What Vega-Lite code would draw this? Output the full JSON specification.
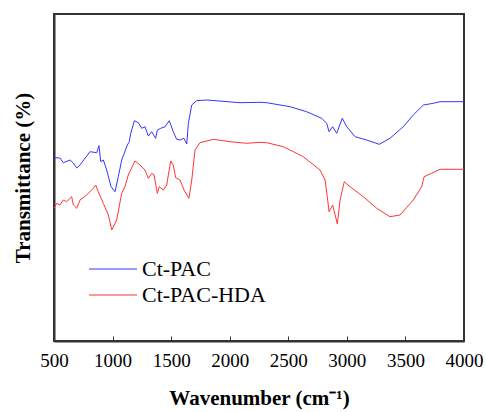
{
  "$schema": "https://vega.github.io/schema/vega-lite/v6.json",
  "width": 410,
  "height": 327,
  "autosize": "none",
  "padding": {"left": 54, "top": 14, "right": 22, "bottom": 71},
  "background": "white",
  "config": {
    "font": "Liberation Serif",
    "view": {"stroke": "#333333", "strokeWidth": 2}
  },
  "data": {
    "values": [
      {"wn": 500, "t": 183.3, "s": "Ct-PAC"},
      {"wn": 551, "t": 183, "s": "Ct-PAC"},
      {"wn": 579, "t": 178.3, "s": "Ct-PAC"},
      {"wn": 637, "t": 181, "s": "Ct-PAC"},
      {"wn": 665, "t": 178, "s": "Ct-PAC"},
      {"wn": 694, "t": 173, "s": "Ct-PAC"},
      {"wn": 722, "t": 176, "s": "Ct-PAC"},
      {"wn": 807, "t": 189.3, "s": "Ct-PAC"},
      {"wn": 865, "t": 188.3, "s": "Ct-PAC"},
      {"wn": 884, "t": 195.3, "s": "Ct-PAC"},
      {"wn": 899, "t": 179.3, "s": "Ct-PAC"},
      {"wn": 921, "t": 181, "s": "Ct-PAC"},
      {"wn": 950, "t": 171, "s": "Ct-PAC"},
      {"wn": 987, "t": 154.3, "s": "Ct-PAC"},
      {"wn": 1021, "t": 149.3, "s": "Ct-PAC"},
      {"wn": 1049, "t": 164.3, "s": "Ct-PAC"},
      {"wn": 1078, "t": 181, "s": "Ct-PAC"},
      {"wn": 1126, "t": 196, "s": "Ct-PAC"},
      {"wn": 1143, "t": 199.3, "s": "Ct-PAC"},
      {"wn": 1155, "t": 207.7, "s": "Ct-PAC"},
      {"wn": 1186, "t": 220.3, "s": "Ct-PAC"},
      {"wn": 1220, "t": 218.3, "s": "Ct-PAC"},
      {"wn": 1249, "t": 212.7, "s": "Ct-PAC"},
      {"wn": 1277, "t": 214.3, "s": "Ct-PAC"},
      {"wn": 1305, "t": 205, "s": "Ct-PAC"},
      {"wn": 1334, "t": 209.3, "s": "Ct-PAC"},
      {"wn": 1368, "t": 202.7, "s": "Ct-PAC"},
      {"wn": 1382, "t": 211, "s": "Ct-PAC"},
      {"wn": 1411, "t": 212.7, "s": "Ct-PAC"},
      {"wn": 1448, "t": 214.3, "s": "Ct-PAC"},
      {"wn": 1484, "t": 220.3, "s": "Ct-PAC"},
      {"wn": 1518, "t": 209.3, "s": "Ct-PAC"},
      {"wn": 1547, "t": 201.7, "s": "Ct-PAC"},
      {"wn": 1576, "t": 201, "s": "Ct-PAC"},
      {"wn": 1610, "t": 202.7, "s": "Ct-PAC"},
      {"wn": 1633, "t": 197, "s": "Ct-PAC"},
      {"wn": 1647, "t": 217.7, "s": "Ct-PAC"},
      {"wn": 1676, "t": 236, "s": "Ct-PAC"},
      {"wn": 1718, "t": 240.3, "s": "Ct-PAC"},
      {"wn": 1804, "t": 241, "s": "Ct-PAC"},
      {"wn": 2088, "t": 238.3, "s": "Ct-PAC"},
      {"wn": 2259, "t": 238.7, "s": "Ct-PAC"},
      {"wn": 2316, "t": 238.3, "s": "Ct-PAC"},
      {"wn": 2515, "t": 234.3, "s": "Ct-PAC"},
      {"wn": 2657, "t": 229.3, "s": "Ct-PAC"},
      {"wn": 2785, "t": 222.7, "s": "Ct-PAC"},
      {"wn": 2828, "t": 217.7, "s": "Ct-PAC"},
      {"wn": 2848, "t": 209.3, "s": "Ct-PAC"},
      {"wn": 2879, "t": 214.3, "s": "Ct-PAC"},
      {"wn": 2913, "t": 207.7, "s": "Ct-PAC"},
      {"wn": 2961, "t": 222.7, "s": "Ct-PAC"},
      {"wn": 2999, "t": 214.3, "s": "Ct-PAC"},
      {"wn": 3070, "t": 204.3, "s": "Ct-PAC"},
      {"wn": 3169, "t": 201, "s": "Ct-PAC"},
      {"wn": 3277, "t": 196.7, "s": "Ct-PAC"},
      {"wn": 3368, "t": 202.7, "s": "Ct-PAC"},
      {"wn": 3482, "t": 214.3, "s": "Ct-PAC"},
      {"wn": 3567, "t": 226, "s": "Ct-PAC"},
      {"wn": 3653, "t": 236, "s": "Ct-PAC"},
      {"wn": 3738, "t": 237.7, "s": "Ct-PAC"},
      {"wn": 3795, "t": 239.3, "s": "Ct-PAC"},
      {"wn": 4000, "t": 239.3, "s": "Ct-PAC"},
      {"wn": 500, "t": 132.7, "s": "Ct-PAC-HDA"},
      {"wn": 523, "t": 137.7, "s": "Ct-PAC-HDA"},
      {"wn": 551, "t": 136, "s": "Ct-PAC-HDA"},
      {"wn": 579, "t": 141, "s": "Ct-PAC-HDA"},
      {"wn": 608, "t": 139.3, "s": "Ct-PAC-HDA"},
      {"wn": 651, "t": 144.3, "s": "Ct-PAC-HDA"},
      {"wn": 665, "t": 136, "s": "Ct-PAC-HDA"},
      {"wn": 694, "t": 132.7, "s": "Ct-PAC-HDA"},
      {"wn": 722, "t": 141, "s": "Ct-PAC-HDA"},
      {"wn": 779, "t": 146, "s": "Ct-PAC-HDA"},
      {"wn": 835, "t": 152.7, "s": "Ct-PAC-HDA"},
      {"wn": 856, "t": 156, "s": "Ct-PAC-HDA"},
      {"wn": 878, "t": 149.3, "s": "Ct-PAC-HDA"},
      {"wn": 921, "t": 137.7, "s": "Ct-PAC-HDA"},
      {"wn": 964, "t": 126, "s": "Ct-PAC-HDA"},
      {"wn": 993, "t": 111, "s": "Ct-PAC-HDA"},
      {"wn": 1035, "t": 121, "s": "Ct-PAC-HDA"},
      {"wn": 1078, "t": 147.7, "s": "Ct-PAC-HDA"},
      {"wn": 1106, "t": 154.3, "s": "Ct-PAC-HDA"},
      {"wn": 1134, "t": 166, "s": "Ct-PAC-HDA"},
      {"wn": 1191, "t": 180, "s": "Ct-PAC-HDA"},
      {"wn": 1234, "t": 176, "s": "Ct-PAC-HDA"},
      {"wn": 1277, "t": 171, "s": "Ct-PAC-HDA"},
      {"wn": 1305, "t": 162.7, "s": "Ct-PAC-HDA"},
      {"wn": 1334, "t": 167.7, "s": "Ct-PAC-HDA"},
      {"wn": 1354, "t": 166, "s": "Ct-PAC-HDA"},
      {"wn": 1382, "t": 147.7, "s": "Ct-PAC-HDA"},
      {"wn": 1399, "t": 154.3, "s": "Ct-PAC-HDA"},
      {"wn": 1433, "t": 151, "s": "Ct-PAC-HDA"},
      {"wn": 1462, "t": 156, "s": "Ct-PAC-HDA"},
      {"wn": 1496, "t": 180, "s": "Ct-PAC-HDA"},
      {"wn": 1518, "t": 176, "s": "Ct-PAC-HDA"},
      {"wn": 1539, "t": 163.3, "s": "Ct-PAC-HDA"},
      {"wn": 1576, "t": 161, "s": "Ct-PAC-HDA"},
      {"wn": 1610, "t": 151, "s": "Ct-PAC-HDA"},
      {"wn": 1652, "t": 142.7, "s": "Ct-PAC-HDA"},
      {"wn": 1676, "t": 161, "s": "Ct-PAC-HDA"},
      {"wn": 1704, "t": 191, "s": "Ct-PAC-HDA"},
      {"wn": 1746, "t": 198.3, "s": "Ct-PAC-HDA"},
      {"wn": 1860, "t": 201.7, "s": "Ct-PAC-HDA"},
      {"wn": 2003, "t": 199.3, "s": "Ct-PAC-HDA"},
      {"wn": 2145, "t": 197.7, "s": "Ct-PAC-HDA"},
      {"wn": 2259, "t": 198.7, "s": "Ct-PAC-HDA"},
      {"wn": 2316, "t": 198.3, "s": "Ct-PAC-HDA"},
      {"wn": 2458, "t": 194.3, "s": "Ct-PAC-HDA"},
      {"wn": 2628, "t": 184.3, "s": "Ct-PAC-HDA"},
      {"wn": 2771, "t": 171, "s": "Ct-PAC-HDA"},
      {"wn": 2814, "t": 161, "s": "Ct-PAC-HDA"},
      {"wn": 2833, "t": 144.3, "s": "Ct-PAC-HDA"},
      {"wn": 2848, "t": 129.3, "s": "Ct-PAC-HDA"},
      {"wn": 2879, "t": 136, "s": "Ct-PAC-HDA"},
      {"wn": 2919, "t": 117, "s": "Ct-PAC-HDA"},
      {"wn": 2942, "t": 141, "s": "Ct-PAC-HDA"},
      {"wn": 2978, "t": 159.3, "s": "Ct-PAC-HDA"},
      {"wn": 3027, "t": 154.3, "s": "Ct-PAC-HDA"},
      {"wn": 3141, "t": 144.3, "s": "Ct-PAC-HDA"},
      {"wn": 3255, "t": 132.7, "s": "Ct-PAC-HDA"},
      {"wn": 3368, "t": 124.3, "s": "Ct-PAC-HDA"},
      {"wn": 3454, "t": 126, "s": "Ct-PAC-HDA"},
      {"wn": 3567, "t": 141, "s": "Ct-PAC-HDA"},
      {"wn": 3639, "t": 154.3, "s": "Ct-PAC-HDA"},
      {"wn": 3659, "t": 164.3, "s": "Ct-PAC-HDA"},
      {"wn": 3724, "t": 167.7, "s": "Ct-PAC-HDA"},
      {"wn": 3795, "t": 171.7, "s": "Ct-PAC-HDA"},
      {"wn": 4000, "t": 171.7, "s": "Ct-PAC-HDA"}
    ]
  },
  "mark": {"type": "line", "strokeWidth": 1},
  "encoding": {
    "x": {
      "field": "wn",
      "type": "quantitative",
      "scale": {"domain": [500, 4000], "nice": false, "zero": false},
      "axis": {
        "values": [500, 1000, 1500, 2000, 2500, 3000, 3500, 4000],
        "format": "d",
        "grid": false,
        "labelFlush": false,
        "labelOverlap": false,
        "tickSize": -5,
        "tickColor": "#333333",
        "domainColor": "#333333",
        "domainWidth": 2,
        "labelFont": "Liberation Serif",
        "labelFontSize": 19,
        "labelColor": "black",
        "labelPadding": 15,
        "title": "Wavenumber (cm⁻¹)",
        "titleFont": "Liberation Serif",
        "titleFontSize": 21,
        "titleFontWeight": "bold",
        "titleColor": "black",
        "titlePadding": 17
      }
    },
    "y": {
      "field": "t",
      "type": "quantitative",
      "scale": {"domain": [0, 327], "nice": false, "zero": false},
      "axis": {
        "labels": false,
        "ticks": false,
        "grid": false,
        "domainColor": "#333333",
        "domainWidth": 2,
        "title": "Transmittance (%)",
        "titleFont": "Liberation Serif",
        "titleFontSize": 21,
        "titleFontWeight": "bold",
        "titleColor": "black",
        "titlePadding": 21
      }
    },
    "color": {
      "field": "s",
      "type": "nominal",
      "scale": {"domain": ["Ct-PAC", "Ct-PAC-HDA"], "range": ["#3535ff", "#ff3535"]},
      "legend": {
        "title": null,
        "orient": "none",
        "legendX": 48,
        "legendY": 244,
        "symbolType": "M-3,0H3",
        "symbolSize": 256,
        "symbolStrokeWidth": 1,
        "labelFont": "Liberation Serif",
        "labelFontSize": 22,
        "labelColor": "black",
        "labelOffset": 18,
        "rowPadding": 4
      }
    }
  }
}
